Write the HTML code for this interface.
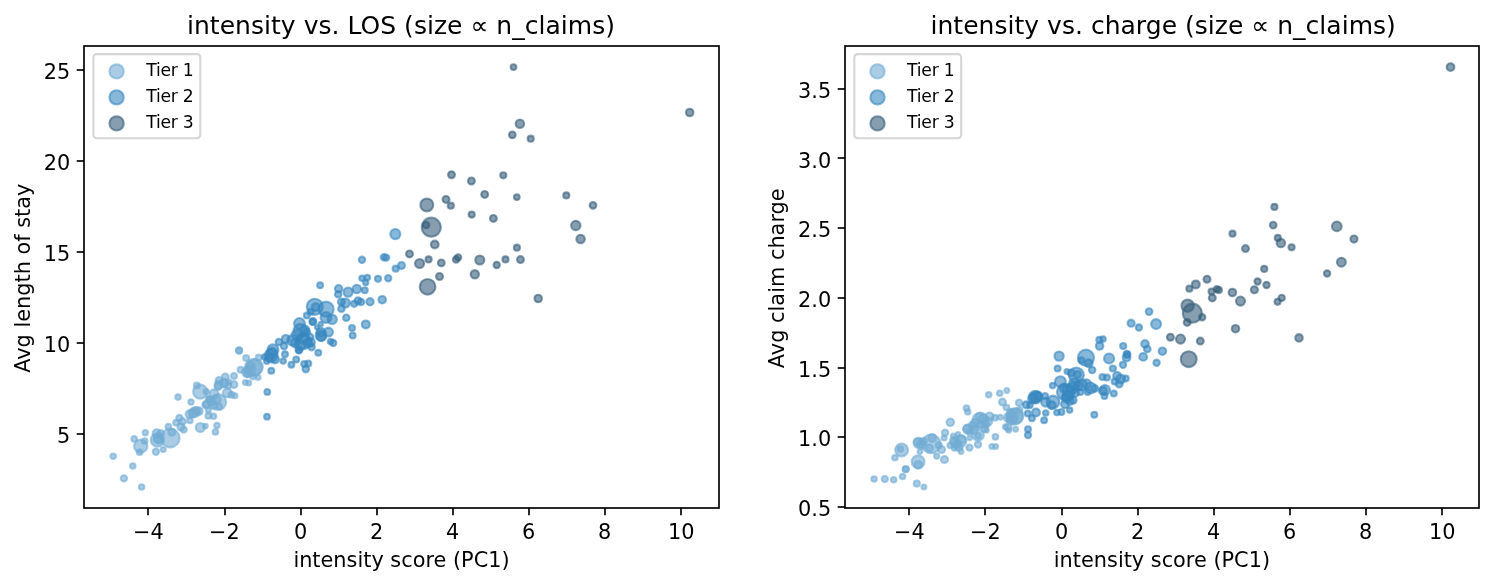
<!DOCTYPE html>
<html lang="en"><head><meta charset="utf-8"><title>intensity scatter</title>
<style>html,body{margin:0;padding:0;background:#fff}body{width:1494px;height:586px;overflow:hidden}</style></head>
<body>
<svg width="1494" height="586" viewBox="0 0 1494 586" style="display:block">
<rect width="1494" height="586" fill="#fff"/>
<defs>
<clipPath id="c0"><rect x="84" y="46" width="635" height="462"/></clipPath>
<clipPath id="c1"><rect x="845" y="46" width="634" height="462"/></clipPath>
</defs>
<g clip-path="url(#c0)">
<g fill="#71abd3" stroke="#71abd3" fill-opacity="0.6" stroke-opacity="0.6" stroke-width="2.083">
<circle cx="113.2" cy="456.2" r="2.76"/>
<circle cx="132.8" cy="466" r="2.76"/>
<circle cx="123.9" cy="478.4" r="3.16"/>
<circle cx="141.6" cy="487" r="2.76"/>
<circle cx="134.2" cy="438.9" r="2.81"/>
<circle cx="145.3" cy="432.7" r="2.66"/>
<circle cx="140.7" cy="446.1" r="6.66"/>
<circle cx="144.6" cy="441.1" r="2.81"/>
<circle cx="139.6" cy="452.2" r="2.81"/>
<circle cx="155.9" cy="451.7" r="3.16"/>
<circle cx="163.2" cy="449.5" r="2.56"/>
<circle cx="157.4" cy="440" r="6.66"/>
<circle cx="156.6" cy="433.2" r="3.96"/>
<circle cx="160.6" cy="433.5" r="3.56"/>
<circle cx="158.3" cy="439" r="4.66"/>
<circle cx="158.9" cy="436" r="2.36"/>
<circle cx="170.3" cy="438" r="9.36"/>
<circle cx="171.8" cy="432.3" r="3.56"/>
<circle cx="168.4" cy="426.5" r="2.81"/>
<circle cx="176" cy="422.7" r="2.81"/>
<circle cx="183.7" cy="429.6" r="3.16"/>
<circle cx="181" cy="426.9" r="3.56"/>
<circle cx="179.4" cy="418" r="3.16"/>
<circle cx="189.9" cy="420.4" r="2.81"/>
<circle cx="200.3" cy="427.5" r="4.56"/>
<circle cx="205.4" cy="426.1" r="2.36"/>
<circle cx="217" cy="425.5" r="2.76"/>
<circle cx="215.4" cy="431.9" r="2.76"/>
<circle cx="178" cy="397.1" r="2.76"/>
<circle cx="191" cy="402" r="2.66"/>
<circle cx="196.8" cy="385.6" r="2.96"/>
<circle cx="200.2" cy="391.7" r="7.06"/>
<circle cx="206.3" cy="391.7" r="2.76"/>
<circle cx="189.5" cy="414.3" r="3.96"/>
<circle cx="194.6" cy="412.2" r="4.96"/>
<circle cx="198.7" cy="411.2" r="3.96"/>
<circle cx="208.4" cy="415.8" r="2.96"/>
<circle cx="213.5" cy="416.3" r="2.76"/>
<circle cx="218.1" cy="402" r="8.06"/>
<circle cx="205.8" cy="405" r="3.46"/>
<circle cx="208.9" cy="398.4" r="2.46"/>
<circle cx="214" cy="393.8" r="4.46"/>
<circle cx="213" cy="405" r="3.96"/>
<circle cx="208.4" cy="410.2" r="2.46"/>
<circle cx="219.1" cy="406.6" r="2.96"/>
<circle cx="219.1" cy="380.5" r="3.46"/>
<circle cx="225.3" cy="376.9" r="3.46"/>
<circle cx="218.1" cy="386.6" r="3.46"/>
<circle cx="224.3" cy="383.5" r="3.96"/>
<circle cx="234" cy="375.9" r="2.96"/>
<circle cx="234" cy="384.6" r="3.46"/>
<circle cx="228.9" cy="382" r="2.46"/>
<circle cx="227.3" cy="392.8" r="4.46"/>
<circle cx="231.4" cy="394.8" r="2.96"/>
<circle cx="235" cy="395.8" r="2.46"/>
<circle cx="240.6" cy="369.7" r="2.96"/>
<circle cx="245.3" cy="382.5" r="2.46"/>
<circle cx="248.8" cy="383" r="2.46"/>
<circle cx="258.1" cy="377.4" r="2.46"/>
<circle cx="239" cy="350.5" r="3.16"/>
<circle cx="246.2" cy="358.1" r="2.96"/>
<circle cx="253.5" cy="367.6" r="8.56"/>
<circle cx="258.7" cy="357.4" r="2.96"/>
<circle cx="247" cy="372" r="4.86"/>
<circle cx="158.5" cy="438.5" r="4.36"/>
<circle cx="182.5" cy="421.5" r="3.36"/>
<circle cx="193" cy="413" r="4.36"/>
<circle cx="196.5" cy="411" r="3.96"/>
<circle cx="206.5" cy="404" r="3.46"/>
<circle cx="211.5" cy="401.5" r="3.96"/>
<circle cx="209" cy="399.5" r="2.96"/>
<circle cx="216.5" cy="399.5" r="4.36"/>
<circle cx="218.7" cy="384.8" r="4.16"/>
<circle cx="224.1" cy="382.7" r="4.16"/>
<circle cx="228.2" cy="385.5" r="3.16"/>
<circle cx="247.3" cy="373.9" r="3.46"/>
<circle cx="252.8" cy="376.6" r="2.76"/>
<circle cx="250.5" cy="366" r="4.36"/>
<circle cx="255" cy="367" r="7.86"/>
<circle cx="239.2" cy="350.6" r="2.96"/>
<circle cx="250" cy="370.5" r="5.36"/>
</g>
<g fill="#3787c0" stroke="#3787c0" fill-opacity="0.6" stroke-opacity="0.6" stroke-width="2.083">
<circle cx="271.3" cy="370.7" r="2.96"/>
<circle cx="273" cy="349.7" r="5.46"/>
<circle cx="271" cy="355.8" r="6.56"/>
<circle cx="264.6" cy="357" r="2.66"/>
<circle cx="266.7" cy="361.2" r="2.66"/>
<circle cx="275" cy="359.4" r="3.96"/>
<circle cx="278.9" cy="342" r="3.26"/>
<circle cx="284" cy="346.1" r="3.26"/>
<circle cx="285" cy="354.3" r="2.96"/>
<circle cx="283.2" cy="361" r="2.76"/>
<circle cx="285.8" cy="338.9" r="3.96"/>
<circle cx="291.4" cy="364.7" r="2.96"/>
<circle cx="296.2" cy="359.4" r="2.96"/>
<circle cx="298.8" cy="350" r="3.26"/>
<circle cx="304.2" cy="364" r="2.96"/>
<circle cx="308.3" cy="363.5" r="2.96"/>
<circle cx="305.8" cy="369.1" r="3.26"/>
<circle cx="318.3" cy="352.8" r="2.96"/>
<circle cx="311.6" cy="347.1" r="3.26"/>
<circle cx="267.3" cy="391.9" r="2.86"/>
<circle cx="267" cy="416.7" r="2.86"/>
<circle cx="299.5" cy="323.5" r="5.46"/>
<circle cx="312.8" cy="321.5" r="3.46"/>
<circle cx="320.6" cy="324.2" r="2.26"/>
<circle cx="316.9" cy="327.3" r="2.06"/>
<circle cx="328.5" cy="332.1" r="4.46"/>
<circle cx="321" cy="335.5" r="5.46"/>
<circle cx="333.2" cy="343" r="3.16"/>
<circle cx="330.5" cy="341.6" r="2.76"/>
<circle cx="299.1" cy="350.2" r="3.16"/>
<circle cx="292.3" cy="340.3" r="5.16"/>
<circle cx="303.2" cy="341.6" r="7.56"/>
<circle cx="300.5" cy="330.7" r="6.86"/>
<circle cx="306.6" cy="332.1" r="3.46"/>
<circle cx="310.7" cy="342.3" r="4.16"/>
<circle cx="320.1" cy="285.3" r="2.96"/>
<circle cx="338.6" cy="288.7" r="3.66"/>
<circle cx="338.2" cy="294.3" r="3.26"/>
<circle cx="348.1" cy="292.1" r="4.66"/>
<circle cx="356.8" cy="289" r="4.26"/>
<circle cx="364.8" cy="290.2" r="2.96"/>
<circle cx="341.4" cy="302" r="3.46"/>
<circle cx="345.5" cy="303" r="4.46"/>
<circle cx="341.4" cy="308.7" r="3.26"/>
<circle cx="354.2" cy="303.8" r="3.06"/>
<circle cx="358" cy="300.8" r="3.46"/>
<circle cx="361" cy="302" r="3.26"/>
<circle cx="370" cy="301.8" r="3.66"/>
<circle cx="382.2" cy="299.7" r="3.76"/>
<circle cx="346.3" cy="317.7" r="3.26"/>
<circle cx="365.8" cy="324.4" r="3.96"/>
<circle cx="352" cy="327.9" r="2.96"/>
<circle cx="352.7" cy="335.5" r="2.96"/>
<circle cx="314.8" cy="306.8" r="8.06"/>
<circle cx="326.1" cy="309.2" r="7.56"/>
<circle cx="315.8" cy="307.1" r="3.96"/>
<circle cx="326" cy="317.5" r="5.46"/>
<circle cx="332.2" cy="319.4" r="4.66"/>
<circle cx="306.8" cy="315.6" r="2.96"/>
<circle cx="310.7" cy="311.7" r="2.96"/>
<circle cx="395.3" cy="234.1" r="5.06"/>
<circle cx="362" cy="259.8" r="3.16"/>
<circle cx="383.9" cy="257.3" r="3.16"/>
<circle cx="386.2" cy="257.6" r="3.16"/>
<circle cx="401.5" cy="265.5" r="3.46"/>
<circle cx="395.7" cy="268.7" r="3.06"/>
<circle cx="388.2" cy="278.2" r="3.16"/>
<circle cx="378" cy="278.8" r="3.06"/>
<circle cx="367.3" cy="277.5" r="2.76"/>
<circle cx="362" cy="278.2" r="2.76"/>
<circle cx="365.7" cy="282.6" r="2.66"/>
<circle cx="272" cy="353" r="5.36"/>
<circle cx="270" cy="357.5" r="3.86"/>
<circle cx="297" cy="335" r="5.36"/>
<circle cx="303" cy="338" r="5.36"/>
<circle cx="308" cy="343" r="4.36"/>
<circle cx="300" cy="345" r="5.36"/>
<circle cx="305" cy="330" r="4.36"/>
<circle cx="295" cy="343" r="4.36"/>
<circle cx="310" cy="337" r="3.36"/>
<circle cx="321.3" cy="336.5" r="4.36"/>
<circle cx="312.9" cy="321.7" r="2.96"/>
<circle cx="320.9" cy="332.2" r="4.46"/>
</g>
<g fill="#355d79" stroke="#355d79" fill-opacity="0.6" stroke-opacity="0.6" stroke-width="2.083">
<circle cx="431.3" cy="227.2" r="9.56"/>
<circle cx="426.1" cy="225" r="3.26"/>
<circle cx="434.8" cy="244.5" r="3.86"/>
<circle cx="409.5" cy="253.9" r="3.46"/>
<circle cx="419.6" cy="263.5" r="4.56"/>
<circle cx="428.6" cy="259.4" r="3.06"/>
<circle cx="441.3" cy="262.9" r="3.36"/>
<circle cx="456.1" cy="259.5" r="3.26"/>
<circle cx="458.1" cy="257.4" r="3.16"/>
<circle cx="439.5" cy="276.5" r="3.46"/>
<circle cx="427.6" cy="286.8" r="7.86"/>
<circle cx="451.5" cy="174.8" r="3.46"/>
<circle cx="471.4" cy="181" r="3.46"/>
<circle cx="503.3" cy="175.3" r="3.06"/>
<circle cx="484.7" cy="194.4" r="3.46"/>
<circle cx="516.8" cy="197.1" r="2.86"/>
<circle cx="446" cy="199.4" r="3.46"/>
<circle cx="450.8" cy="205.7" r="3.06"/>
<circle cx="426.8" cy="204.9" r="6.46"/>
<circle cx="471.7" cy="214.6" r="3.06"/>
<circle cx="493.4" cy="218.4" r="3.46"/>
<circle cx="513.5" cy="67.1" r="2.86"/>
<circle cx="519.9" cy="123.7" r="4.26"/>
<circle cx="512.3" cy="134.8" r="3.36"/>
<circle cx="530.7" cy="138.7" r="3.06"/>
<circle cx="566.3" cy="195.4" r="3.06"/>
<circle cx="593" cy="205.3" r="3.36"/>
<circle cx="575.8" cy="225.5" r="4.66"/>
<circle cx="580.6" cy="239" r="4.26"/>
<circle cx="516.9" cy="247.7" r="3.06"/>
<circle cx="479.8" cy="260" r="4.56"/>
<circle cx="505.5" cy="259.4" r="3.06"/>
<circle cx="520.5" cy="259.6" r="3.46"/>
<circle cx="474.8" cy="274.3" r="4.16"/>
<circle cx="496.7" cy="265" r="3.16"/>
<circle cx="538.2" cy="298.5" r="3.76"/>
<circle cx="689.7" cy="112.5" r="3.76"/>
</g>
</g>
<g stroke="#000" stroke-width="1.667" fill="none">
<line x1="148" y1="508" x2="148" y2="515.29"/>
<line x1="225" y1="508" x2="225" y2="515.29"/>
<line x1="301" y1="508" x2="301" y2="515.29"/>
<line x1="377" y1="508" x2="377" y2="515.29"/>
<line x1="453" y1="508" x2="453" y2="515.29"/>
<line x1="529" y1="508" x2="529" y2="515.29"/>
<line x1="605" y1="508" x2="605" y2="515.29"/>
<line x1="681" y1="508" x2="681" y2="515.29"/>
<line x1="84" y1="434" x2="76.71" y2="434"/>
<line x1="84" y1="343" x2="76.71" y2="343"/>
<line x1="84" y1="252" x2="76.71" y2="252"/>
<line x1="84" y1="161" x2="76.71" y2="161"/>
<line x1="84" y1="70" x2="76.71" y2="70"/>
<rect x="84" y="46" width="635" height="462" stroke-linejoin="miter"/>
</g>
<rect x="93.4" y="54.1" width="106.9" height="84.1" rx="3.33" ry="3.33" fill="#fff" stroke="#ccc" stroke-width="2.083" opacity="0.8"/>
<circle cx="116.6" cy="71.4" r="7.15" fill="#71abd3" stroke="#71abd3" fill-opacity="0.6" stroke-opacity="0.6" stroke-width="2.083"/>
<circle cx="116.6" cy="97.4" r="7.15" fill="#3787c0" stroke="#3787c0" fill-opacity="0.6" stroke-opacity="0.6" stroke-width="2.083"/>
<circle cx="116.6" cy="123.4" r="7.15" fill="#355d79" stroke="#355d79" fill-opacity="0.6" stroke-opacity="0.6" stroke-width="2.083"/>
<g clip-path="url(#c1)">
<g fill="#71abd3" stroke="#71abd3" fill-opacity="0.6" stroke-opacity="0.6" stroke-width="2.083">
<circle cx="874.1" cy="479" r="2.76"/>
<circle cx="884.8" cy="479.1" r="3.06"/>
<circle cx="893.7" cy="479.8" r="2.76"/>
<circle cx="902.6" cy="476.5" r="2.76"/>
<circle cx="905.9" cy="469.1" r="3.06"/>
<circle cx="905.6" cy="469.3" r="2.86"/>
<circle cx="916.8" cy="483.6" r="3.06"/>
<circle cx="923.9" cy="486.9" r="2.46"/>
<circle cx="894.9" cy="457.8" r="2.76"/>
<circle cx="901.6" cy="450" r="6.46"/>
<circle cx="900.5" cy="449.1" r="2.76"/>
<circle cx="918.1" cy="461.7" r="6.46"/>
<circle cx="918.2" cy="464.8" r="3.86"/>
<circle cx="920" cy="451.6" r="2.36"/>
<circle cx="918.8" cy="443" r="5.16"/>
<circle cx="917.5" cy="442" r="3.76"/>
<circle cx="923.4" cy="441.5" r="3.56"/>
<circle cx="921.5" cy="444.5" r="4.36"/>
<circle cx="931.1" cy="443.8" r="9.36"/>
<circle cx="932.2" cy="438" r="3.96"/>
<circle cx="929.4" cy="448" r="3.56"/>
<circle cx="936.7" cy="456.1" r="2.66"/>
<circle cx="941.5" cy="449.5" r="3.56"/>
<circle cx="938.8" cy="445.3" r="3.16"/>
<circle cx="944.5" cy="459.5" r="3.56"/>
<circle cx="945.1" cy="432.7" r="3.16"/>
<circle cx="944.1" cy="438" r="2.56"/>
<circle cx="950.3" cy="422.3" r="3.76"/>
<circle cx="953.3" cy="436.1" r="2.46"/>
<circle cx="958" cy="434.2" r="2.26"/>
<circle cx="961.8" cy="439.2" r="3.96"/>
<circle cx="955.7" cy="443" r="4.76"/>
<circle cx="950.3" cy="445.3" r="2.86"/>
<circle cx="958.7" cy="446.9" r="3.96"/>
<circle cx="961" cy="451.5" r="2.46"/>
<circle cx="969.5" cy="447.6" r="3.16"/>
<circle cx="954.5" cy="448" r="2.66"/>
<circle cx="960.4" cy="441.1" r="5.86"/>
<circle cx="967.9" cy="429.2" r="4.76"/>
<circle cx="967.3" cy="428.8" r="3.96"/>
<circle cx="966.5" cy="408.1" r="2.86"/>
<circle cx="967.7" cy="411.9" r="2.66"/>
<circle cx="980.3" cy="420.3" r="7.76"/>
<circle cx="989.5" cy="416.5" r="3.96"/>
<circle cx="994.9" cy="417.7" r="2.86"/>
<circle cx="1000.3" cy="417.3" r="2.46"/>
<circle cx="985.5" cy="424" r="3.96"/>
<circle cx="975" cy="423" r="3.96"/>
<circle cx="978" cy="434.9" r="5.86"/>
<circle cx="978" cy="435.7" r="2.86"/>
<circle cx="984.9" cy="428.8" r="3.16"/>
<circle cx="986.5" cy="430.5" r="2.26"/>
<circle cx="978" cy="444.5" r="3.16"/>
<circle cx="969.6" cy="438" r="2.26"/>
<circle cx="995.4" cy="436.8" r="2.86"/>
<circle cx="991.8" cy="446.4" r="2.46"/>
<circle cx="995.7" cy="446.4" r="2.46"/>
<circle cx="1008" cy="427.3" r="3.56"/>
<circle cx="1005.5" cy="426.8" r="2.56"/>
<circle cx="1008.7" cy="430.3" r="2.46"/>
<circle cx="1015.6" cy="429.2" r="2.46"/>
<circle cx="1015.8" cy="415.9" r="7.56"/>
<circle cx="1008.7" cy="417.7" r="4.76"/>
<circle cx="1006.4" cy="407.3" r="2.86"/>
<circle cx="1002.5" cy="402.1" r="3.46"/>
<circle cx="1019.1" cy="402.8" r="3.26"/>
<circle cx="988.7" cy="394.8" r="2.76"/>
<circle cx="999.7" cy="393.3" r="2.76"/>
<circle cx="1006.8" cy="390.5" r="2.46"/>
<circle cx="1014.5" cy="416.5" r="8.16"/>
<circle cx="954" cy="441" r="4.16"/>
<circle cx="957.5" cy="444.5" r="3.76"/>
<circle cx="969.5" cy="432" r="2.66"/>
<circle cx="972.5" cy="425.5" r="3.76"/>
<circle cx="974" cy="430" r="3.76"/>
<circle cx="979.5" cy="417" r="3.96"/>
<circle cx="980" cy="424.5" r="2.96"/>
<circle cx="988" cy="421.5" r="4.16"/>
<circle cx="983" cy="419" r="4.36"/>
<circle cx="1011" cy="413" r="4.16"/>
<circle cx="1011.5" cy="419.5" r="4.96"/>
<circle cx="1019.5" cy="410" r="2.96"/>
<circle cx="1013" cy="417" r="5.36"/>
</g>
<g fill="#3787c0" stroke="#3787c0" fill-opacity="0.6" stroke-opacity="0.6" stroke-width="2.083">
<circle cx="1028" cy="429.2" r="2.96"/>
<circle cx="1028" cy="435.1" r="3.16"/>
<circle cx="1027.8" cy="413.5" r="2.96"/>
<circle cx="1031.9" cy="418.2" r="2.96"/>
<circle cx="1036" cy="412.5" r="3.96"/>
<circle cx="1026.3" cy="404.8" r="3.46"/>
<circle cx="1029.9" cy="405.3" r="2.86"/>
<circle cx="1035.4" cy="397.1" r="6.36"/>
<circle cx="1033" cy="398.5" r="4.86"/>
<circle cx="1038" cy="396" r="4.16"/>
<circle cx="1045.6" cy="402.2" r="4.46"/>
<circle cx="1045.1" cy="396.1" r="2.96"/>
<circle cx="1053" cy="402" r="6.36"/>
<circle cx="1051.7" cy="405.3" r="3.96"/>
<circle cx="1059.1" cy="356.1" r="4.66"/>
<circle cx="1057.6" cy="368.4" r="2.96"/>
<circle cx="1086" cy="357.7" r="8.06"/>
<circle cx="1081.4" cy="360.2" r="2.96"/>
<circle cx="1088.6" cy="363.3" r="3.96"/>
<circle cx="1092.2" cy="370" r="3.26"/>
<circle cx="1109.1" cy="358.5" r="5.06"/>
<circle cx="1102.4" cy="377.1" r="2.96"/>
<circle cx="1107" cy="377.6" r="2.96"/>
<circle cx="1105" cy="389.9" r="4.96"/>
<circle cx="1104.5" cy="396.1" r="2.96"/>
<circle cx="1066.9" cy="371.5" r="2.46"/>
<circle cx="1076.3" cy="375.1" r="7.56"/>
<circle cx="1071.2" cy="373" r="3.46"/>
<circle cx="1077.5" cy="374.5" r="3.46"/>
<circle cx="1060.4" cy="381.7" r="5.46"/>
<circle cx="1052.6" cy="385.6" r="2.76"/>
<circle cx="1065" cy="392" r="8.06"/>
<circle cx="1069" cy="391" r="6.36"/>
<circle cx="1074.3" cy="383.8" r="5.46"/>
<circle cx="1081.4" cy="384.8" r="5.46"/>
<circle cx="1086.5" cy="383.8" r="4.46"/>
<circle cx="1090.6" cy="387.9" r="5.46"/>
<circle cx="1094.7" cy="388.4" r="3.46"/>
<circle cx="1087.6" cy="392" r="2.96"/>
<circle cx="1080.4" cy="392" r="2.96"/>
<circle cx="1073.2" cy="400.2" r="3.46"/>
<circle cx="1065" cy="404.3" r="3.96"/>
<circle cx="1149.1" cy="311.6" r="3.36"/>
<circle cx="1156.1" cy="324.1" r="4.96"/>
<circle cx="1131.1" cy="323.2" r="3.56"/>
<circle cx="1138.9" cy="327.5" r="3.16"/>
<circle cx="1099.3" cy="339.8" r="3.06"/>
<circle cx="1103" cy="339.1" r="2.76"/>
<circle cx="1099.6" cy="346" r="3.76"/>
<circle cx="1123.2" cy="346" r="3.06"/>
<circle cx="1145" cy="343.9" r="3.76"/>
<circle cx="1147.3" cy="349" r="3.36"/>
<circle cx="1162.4" cy="351.2" r="3.76"/>
<circle cx="1143.2" cy="356.9" r="3.86"/>
<circle cx="1156.6" cy="362.8" r="3.16"/>
<circle cx="1126.9" cy="354.2" r="3.46"/>
<circle cx="1127.2" cy="354.6" r="2.96"/>
<circle cx="1126.6" cy="357.6" r="3.86"/>
<circle cx="1123" cy="364.8" r="3.16"/>
<circle cx="1112.9" cy="368.5" r="3.06"/>
<circle cx="1117.1" cy="376" r="3.96"/>
<circle cx="1120.7" cy="379" r="4.46"/>
<circle cx="1125.8" cy="378.5" r="2.96"/>
<circle cx="1119.2" cy="384.1" r="3.46"/>
<circle cx="1114.6" cy="381.6" r="2.96"/>
<circle cx="1102.8" cy="390.8" r="3.96"/>
<circle cx="1113.8" cy="393.4" r="2.96"/>
<circle cx="1094.3" cy="414.7" r="2.96"/>
<circle cx="1069.7" cy="410.1" r="2.76"/>
<circle cx="1061.5" cy="412" r="2.96"/>
<circle cx="1056.9" cy="412.5" r="2.76"/>
<circle cx="1045.8" cy="413" r="2.76"/>
<circle cx="1044.1" cy="420.2" r="2.96"/>
<circle cx="1078" cy="386" r="4.36"/>
<circle cx="1066" cy="398" r="4.36"/>
<circle cx="1072" cy="388" r="5.36"/>
<circle cx="1068" cy="396" r="5.36"/>
<circle cx="1075" cy="393" r="3.86"/>
<circle cx="1070" cy="401" r="3.86"/>
<circle cx="1036" cy="397" r="5.36"/>
<circle cx="1064" cy="388" r="4.36"/>
</g>
<g fill="#355d79" stroke="#355d79" fill-opacity="0.6" stroke-opacity="0.6" stroke-width="2.083">
<circle cx="1187.6" cy="305.7" r="6.16"/>
<circle cx="1192.4" cy="313.2" r="9.56"/>
<circle cx="1202.2" cy="317.3" r="3.16"/>
<circle cx="1187.2" cy="322.4" r="3.46"/>
<circle cx="1170.4" cy="337.2" r="3.46"/>
<circle cx="1180.5" cy="339.1" r="4.56"/>
<circle cx="1200.3" cy="341.1" r="3.46"/>
<circle cx="1188.7" cy="359.2" r="7.96"/>
<circle cx="1232.5" cy="233.7" r="3.06"/>
<circle cx="1245.5" cy="248.6" r="3.46"/>
<circle cx="1273.2" cy="225.1" r="3.36"/>
<circle cx="1277.8" cy="237.9" r="3.06"/>
<circle cx="1280.9" cy="243" r="4.26"/>
<circle cx="1291.6" cy="247.3" r="3.06"/>
<circle cx="1264.2" cy="268.9" r="3.06"/>
<circle cx="1257.6" cy="281.5" r="3.16"/>
<circle cx="1266.5" cy="285" r="3.16"/>
<circle cx="1254.4" cy="289.8" r="3.56"/>
<circle cx="1207" cy="279.2" r="3.46"/>
<circle cx="1195.8" cy="284.4" r="3.96"/>
<circle cx="1189.4" cy="288.7" r="3.06"/>
<circle cx="1216.8" cy="289.1" r="3.16"/>
<circle cx="1218.9" cy="290.1" r="3.06"/>
<circle cx="1211.6" cy="291.5" r="3.06"/>
<circle cx="1232.4" cy="292.5" r="3.76"/>
<circle cx="1212.3" cy="297.9" r="3.46"/>
<circle cx="1240.5" cy="301.1" r="4.56"/>
<circle cx="1281.7" cy="297.9" r="3.16"/>
<circle cx="1277.6" cy="301.8" r="3.06"/>
<circle cx="1235.5" cy="328.7" r="3.76"/>
<circle cx="1299" cy="337.9" r="3.76"/>
<circle cx="1274.4" cy="206.9" r="3.06"/>
<circle cx="1336.8" cy="226.4" r="4.86"/>
<circle cx="1354" cy="239.1" r="3.56"/>
<circle cx="1341.4" cy="262.2" r="4.46"/>
<circle cx="1327.1" cy="273.5" r="3.16"/>
<circle cx="1450.5" cy="67.1" r="3.86"/>
</g>
</g>
<g stroke="#000" stroke-width="1.667" fill="none">
<line x1="909" y1="508" x2="909" y2="515.29"/>
<line x1="985" y1="508" x2="985" y2="515.29"/>
<line x1="1062" y1="508" x2="1062" y2="515.29"/>
<line x1="1138" y1="508" x2="1138" y2="515.29"/>
<line x1="1214" y1="508" x2="1214" y2="515.29"/>
<line x1="1290" y1="508" x2="1290" y2="515.29"/>
<line x1="1366" y1="508" x2="1366" y2="515.29"/>
<line x1="1442" y1="508" x2="1442" y2="515.29"/>
<line x1="845" y1="507" x2="837.71" y2="507"/>
<line x1="845" y1="437" x2="837.71" y2="437"/>
<line x1="845" y1="368" x2="837.71" y2="368"/>
<line x1="845" y1="298" x2="837.71" y2="298"/>
<line x1="845" y1="228" x2="837.71" y2="228"/>
<line x1="845" y1="158" x2="837.71" y2="158"/>
<line x1="845" y1="89" x2="837.71" y2="89"/>
<rect x="845" y="46" width="634" height="462" stroke-linejoin="miter"/>
</g>
<rect x="854.3" y="54.1" width="106.9" height="84.1" rx="3.33" ry="3.33" fill="#fff" stroke="#ccc" stroke-width="2.083" opacity="0.8"/>
<circle cx="877.5" cy="71.4" r="7.15" fill="#71abd3" stroke="#71abd3" fill-opacity="0.6" stroke-opacity="0.6" stroke-width="2.083"/>
<circle cx="877.5" cy="97.4" r="7.15" fill="#3787c0" stroke="#3787c0" fill-opacity="0.6" stroke-opacity="0.6" stroke-width="2.083"/>
<circle cx="877.5" cy="123.4" r="7.15" fill="#355d79" stroke="#355d79" fill-opacity="0.6" stroke-opacity="0.6" stroke-width="2.083"/>
<g font-family="'DejaVu Sans','Liberation Sans',sans-serif" fill="#000">
<text x="401" y="34.4" font-size="25" text-anchor="middle" textLength="428">intensity vs. LOS (size ∝ n_claims)</text>
<text x="401.5" y="566.72" font-size="20.83" text-anchor="middle" textLength="216.25">intensity score (PC1)</text>
<text x="29.68" y="278.25" font-size="20.83" text-anchor="middle" textLength="189.12" transform="rotate(-90 29.68 278.25)">Avg length of stay</text>
<text x="169.95" y="75.9" font-size="17.2" text-anchor="middle" textLength="47.5">Tier 1</text>
<text x="169.95" y="101.78" font-size="17.2" text-anchor="middle" textLength="47.5">Tier 2</text>
<text x="169.95" y="127.87" font-size="17.2" text-anchor="middle" textLength="47.5">Tier 3</text>
<text x="148.38" y="539.38" font-size="20.83" text-anchor="middle" textLength="30.75">−4</text>
<text x="224.38" y="539.38" font-size="20.83" text-anchor="middle" textLength="30.75">−2</text>
<text x="300.62" y="539.38" font-size="20.83" text-anchor="middle" textLength="13.25">0</text>
<text x="376.62" y="539.38" font-size="20.83" text-anchor="middle" textLength="13.25">2</text>
<text x="452.62" y="539.38" font-size="20.83" text-anchor="middle" textLength="13.25">4</text>
<text x="528.69" y="539.38" font-size="20.83" text-anchor="middle" textLength="13.38">6</text>
<text x="604.56" y="539.38" font-size="20.83" text-anchor="middle" textLength="13.12">8</text>
<text x="681.25" y="539.38" font-size="20.83" text-anchor="middle" textLength="26.5">10</text>
<text x="63.69" y="442.91" font-size="20.83" text-anchor="middle" textLength="13.25">5</text>
<text x="57.07" y="351.91" font-size="20.83" text-anchor="middle" textLength="26.5">10</text>
<text x="57.07" y="260.92" font-size="20.83" text-anchor="middle" textLength="26.5">15</text>
<text x="57.07" y="169.92" font-size="20.83" text-anchor="middle" textLength="26.5">20</text>
<text x="57.07" y="78.92" font-size="20.83" text-anchor="middle" textLength="26.5">25</text>
<text x="1163.15" y="34.4" font-size="25" text-anchor="middle" textLength="465.38">intensity vs. charge (size ∝ n_claims)</text>
<text x="1161.95" y="566.72" font-size="20.83" text-anchor="middle" textLength="216.25">intensity score (PC1)</text>
<text x="783.96" y="278.25" font-size="20.83" text-anchor="middle" textLength="179.88" transform="rotate(-90 783.96 278.25)">Avg claim charge</text>
<text x="930.85" y="75.9" font-size="17.2" text-anchor="middle" textLength="47.5">Tier 1</text>
<text x="930.85" y="101.78" font-size="17.2" text-anchor="middle" textLength="47.5">Tier 2</text>
<text x="930.85" y="127.87" font-size="17.2" text-anchor="middle" textLength="47.5">Tier 3</text>
<text x="909.38" y="539.38" font-size="20.83" text-anchor="middle" textLength="30.75">−4</text>
<text x="985.38" y="539.38" font-size="20.83" text-anchor="middle" textLength="30.75">−2</text>
<text x="1061.62" y="539.38" font-size="20.83" text-anchor="middle" textLength="13.25">0</text>
<text x="1137.62" y="539.38" font-size="20.83" text-anchor="middle" textLength="13.25">2</text>
<text x="1213.62" y="539.38" font-size="20.83" text-anchor="middle" textLength="13.25">4</text>
<text x="1289.69" y="539.38" font-size="20.83" text-anchor="middle" textLength="13.38">6</text>
<text x="1365.56" y="539.38" font-size="20.83" text-anchor="middle" textLength="13.12">8</text>
<text x="1442.25" y="539.38" font-size="20.83" text-anchor="middle" textLength="26.5">10</text>
<text x="814.65" y="515.89" font-size="20.83" text-anchor="middle" textLength="33.12">0.5</text>
<text x="814.65" y="446.22" font-size="20.83" text-anchor="middle" textLength="33.12">1.0</text>
<text x="814.65" y="376.54" font-size="20.83" text-anchor="middle" textLength="33.12">1.5</text>
<text x="814.65" y="306.86" font-size="20.83" text-anchor="middle" textLength="33.12">2.0</text>
<text x="814.65" y="237.18" font-size="20.83" text-anchor="middle" textLength="33.12">2.5</text>
<text x="814.65" y="167.5" font-size="20.83" text-anchor="middle" textLength="33.12">3.0</text>
<text x="814.65" y="97.82" font-size="20.83" text-anchor="middle" textLength="33.12">3.5</text>
</g>
</svg>
</body></html>
